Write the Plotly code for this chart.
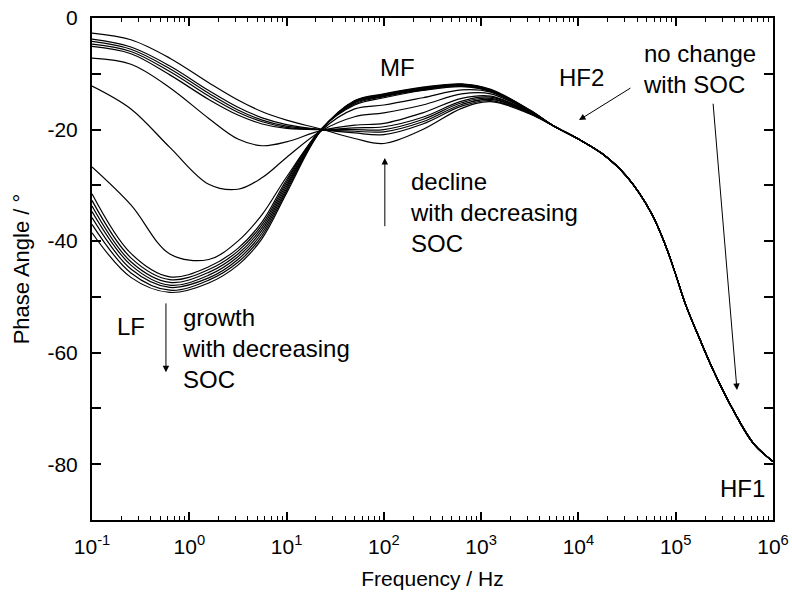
import plotly.graph_objects as go

# log10(frequency / Hz) for the SOC-dependent part of the spectra
lf_mf_exp = [-1.0, -0.6, -0.2, 0.2, 0.5, 0.75, 1.0, 1.35, 1.7, 2.0, 2.4, 2.8, 3.1, 3.5]

# phase angle (deg) of each spectrum on lf_mf_exp, highest SOC first
phase_01 = [-2.7, -3.9, -7.2, -11.6, -14.7, -16.8, -18.3, -19.9, -21.6, -22.5, -20.0, -16.2, -15.0, -17.2]
phase_02 = [-3.8, -5.2, -8.6, -13.0, -16.0, -17.9, -19.1, -20.0, -20.6, -20.9, -19.0, -15.8, -14.8, -17.1]
phase_03 = [-4.2, -5.6, -9.1, -13.5, -16.5, -18.3, -19.4, -20.0, -20.3, -20.4, -18.6, -15.5, -14.6, -17.0]
phase_04 = [-4.7, -6.0, -9.6, -14.0, -16.9, -18.6, -19.6, -20.0, -20.0, -20.0, -18.2, -15.2, -14.4, -17.0]
phase_05 = [-5.1, -6.4, -10.2, -14.6, -17.4, -19.0, -19.8, -20.0, -19.7, -19.5, -17.8, -14.9, -14.2, -16.9]
phase_06 = [-7.2, -8.3, -12.5, -18.0, -21.7, -22.9, -22.2, -20.2, -19.2, -18.9, -17.0, -14.4, -14.0, -16.9]
phase_07 = [-12.2, -16.3, -23.2, -29.8, -30.7, -28.6, -25.0, -20.3, -17.7, -17.0, -15.6, -13.6, -13.6, -16.8]
phase_08 = [-26.7, -33.5, -42.3, -43.3, -40.0, -35.2, -28.5, -20.3, -16.3, -15.6, -14.3, -12.9, -13.3, -16.7]
phase_09 = [-31.5, -42.2, -46.4, -44.6, -41.3, -36.5, -29.0, -20.0, -15.6, -14.3, -13.0, -12.3, -13.2, -16.7]
phase_10 = [-32.7, -43.0, -46.9, -45.1, -41.8, -37.0, -29.4, -20.0, -15.4, -14.1, -12.9, -12.2, -13.1, -16.7]
phase_11 = [-33.7, -43.7, -47.4, -45.6, -42.3, -37.5, -29.8, -20.1, -15.2, -14.0, -12.8, -12.1, -13.0, -16.6]
phase_12 = [-34.7, -44.3, -47.9, -46.1, -42.8, -38.0, -30.2, -20.1, -15.1, -13.9, -12.7, -12.0, -13.0, -16.6]
phase_13 = [-35.8, -45.0, -48.3, -46.6, -43.3, -38.5, -30.6, -20.2, -15.0, -13.8, -12.6, -11.9, -12.9, -16.6]
phase_14 = [-37.0, -45.7, -48.8, -47.0, -43.8, -39.0, -31.0, -20.2, -14.9, -13.7, -12.5, -11.9, -12.9, -16.5]
phase_15 = [-38.5, -46.5, -49.2, -47.5, -44.3, -39.5, -31.4, -20.3, -14.8, -13.6, -12.4, -11.8, -12.8, -16.5]

# high-frequency tail, identical for all SOC values
hf_exp = [3.75, 4.0, 4.25, 4.5, 4.75, 4.9, 5.0, 5.1, 5.25, 5.4, 5.6, 5.8, 6.0]
hf_phase = [-19.4, -21.7, -24.4, -28.5, -35.0, -41.0, -46.0, -51.3, -57.7, -63.7, -70.6, -76.3, -79.5]

spectra = [phase_01, phase_02, phase_03, phase_04, phase_05, phase_06, phase_07, phase_08,
           phase_09, phase_10, phase_11, phase_12, phase_13, phase_14, phase_15]

x_tick_exp = [-1, 0, 1, 2, 3, 4, 5, 6]
x_tick_text = ["10<sup>%d</sup>" % e for e in x_tick_exp]
y_ticks = [-80, -60, -40, -20, 0]

FONT = "Liberation Sans, Arial, sans-serif"

freq = [10 ** e for e in lf_mf_exp + hf_exp]

fig = go.Figure()
for i, ph in enumerate(spectra):
    fig.add_trace(go.Scatter(
        x=freq, y=ph + hf_phase, mode="lines",
        line=dict(color="black", width=1.2, shape="spline", smoothing=1.0),
        name="spectrum %d" % (i + 1), showlegend=False, hoverinfo="skip"))

minor_x = [k * 10 ** e for e in range(-1, 6) for k in range(2, 10)]

fig.update_xaxes(
    type="log", range=[-1, 6], automargin=False,
    tickmode="array", tickvals=[10 ** e for e in x_tick_exp], ticktext=x_tick_text,
    ticks="inside", ticklen=8, tickwidth=1.5, tickcolor="black", ticklabelstandoff=7,
    minor=dict(ticks="inside", ticklen=4, tickwidth=1.2, tickcolor="black",
               tickmode="array", tickvals=minor_x, showgrid=False),
    showline=True, linewidth=2, linecolor="black", mirror="ticks",
    showgrid=False, zeroline=False,
    tickfont=dict(family=FONT, size=21, color="black"),
    title=dict(text="Frequency / Hz", font=dict(family=FONT, size=21, color="black"), standoff=14),
)
fig.update_yaxes(
    range=[-90, 0], automargin=False,
    tickmode="array", tickvals=y_ticks, ticktext=[str(v) for v in y_ticks],
    ticks="inside", ticklen=9, tickwidth=1.5, tickcolor="black", ticklabelstandoff=8,
    minor=dict(ticks="inside", ticklen=9, tickwidth=1.5, tickcolor="black",
               tickmode="array", tickvals=[-90, -70, -50, -30, -10], showgrid=False),
    showline=True, linewidth=2, linecolor="black", mirror="ticks",
    showgrid=False, zeroline=False,
    tickfont=dict(family=FONT, size=21, color="black"),
    title=dict(text="Phase Angle / °", font=dict(family=FONT, size=22, color="black"), standoff=12),
)

afont = dict(family=FONT, size=24, color="black")

def label(x_exp, y, text, xanchor="center"):
    fig.add_annotation(x=x_exp, y=y, xref="x", yref="y", text=text, showarrow=False,
                       xanchor=xanchor, yanchor="middle", align="left", font=afont)

def arrow(x0, y0, x1, y1):
    fig.add_annotation(x=x1, y=y1, ax=x0, ay=y0, xref="x", yref="y", axref="x", ayref="y",
                       text="", showarrow=True, arrowhead=2, arrowsize=1.3, arrowwidth=1,
                       arrowcolor="black", standoff=0, startstandoff=0)

label(2.145, -8.8, "MF")
label(4.03, -10.6, "HF2")
label(-0.6, -55.3, "LF")
label(5.69, -84.3, "HF1")
label(4.64, -9.2, "no change<br>with SOC", xanchor="left")
label(2.25, -34.8, "decline<br>with decreasing<br>SOC", xanchor="left")
label(-0.1, -59.3, "growth<br>with decreasing<br>SOC", xanchor="left")

arrow(-0.24, -50.9, -0.24, -63.5)
arrow(2.01, -37.6, 2.01, -25.1)
arrow(4.55, -12.4, 4.006, -18.3)
arrow(5.383, -15.1, 5.63, -66.7)

fig.update_layout(
    width=792, height=601,
    margin=dict(l=92, r=19, t=18, b=81, autoexpand=False),
    paper_bgcolor="white", plot_bgcolor="white",
    font=dict(family=FONT, color="black"),
)

fig.write_html("out.html")
